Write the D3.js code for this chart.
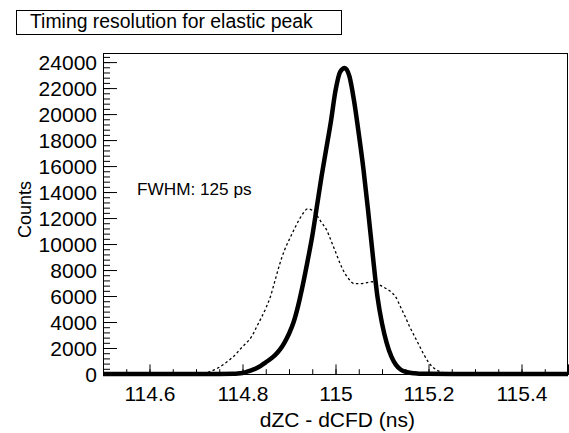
<!DOCTYPE html>
<html>
<head>
<meta charset="utf-8">
<script src="https://cdn.jsdelivr.net/npm/d3@7"></script>
<style>
  html, body { margin: 0; padding: 0; background: #fff; }
  svg { display: block; }
  text { font-family: "Liberation Sans", Arial, Helvetica, sans-serif; fill: #000; }
</style>
</head>
<body>
<svg id="chart" width="569" height="433"></svg>
<script>
// ---- data ----
const title = "Timing resolution for elastic peak";
const xLabel = "dZC - dCFD (ns)";
const yLabel = "Counts";
const annotation = "FWHM: 125 ps";

const xTicks = [114.6, 114.8, 115.0, 115.2, 115.4];
const xTickLabels = ["114.6", "114.8", "115", "115.2", "115.4"];
const yTicks = [0, 2000, 4000, 6000, 8000, 10000, 12000, 14000, 16000, 18000, 20000, 22000, 24000];
const yTickLabels = ["0", "2000", "4000", "6000", "8000", "10000", "12000", "14000", "16000", "18000", "20000", "22000", "24000"];

// thick solid histogram
const solidX = [114.50, 114.70, 114.75, 114.78, 114.79, 114.80, 114.81, 114.82, 114.83, 114.84, 114.85,
  114.86, 114.87, 114.88, 114.89, 114.90, 114.91, 114.92, 114.93, 114.94, 114.95,
  114.96, 114.97, 114.98, 114.99, 115.00, 115.01, 115.02, 115.03, 115.04, 115.05,
  115.06, 115.07, 115.08, 115.09, 115.10, 115.11, 115.12, 115.13, 115.14, 115.15,
  115.16, 115.17, 115.18, 115.20, 115.25, 115.50];
const solidCounts = [0, 0, 0, 10, 30, 80, 180, 300, 450, 650, 900,
  1150, 1450, 1850, 2400, 3100, 4000, 5300, 6900, 8700, 10600,
  12900, 15200, 17300, 19400, 21800, 23250, 23550, 22900, 21000, 18500,
  15800, 12600, 9200, 6000, 3900, 2400, 1350, 700, 350, 180,
  90, 50, 25, 10, 0, 0];

// dotted histogram
const dottedX = [114.50, 114.65, 114.66, 114.67, 114.68, 114.69, 114.70, 114.71, 114.72, 114.73, 114.74,
  114.75, 114.76, 114.77, 114.78, 114.79, 114.80, 114.81, 114.82, 114.83, 114.84,
  114.85, 114.86, 114.87, 114.88, 114.89, 114.90, 114.91, 114.92, 114.93, 114.94,
  114.95, 114.96, 114.97, 114.98, 114.99, 115.00, 115.01, 115.02, 115.03, 115.04,
  115.05, 115.06, 115.07, 115.08, 115.09, 115.10, 115.11, 115.12, 115.13, 115.14,
  115.15, 115.16, 115.17, 115.18, 115.19, 115.20, 115.21, 115.22, 115.23, 115.24,
  115.25, 115.26, 115.28, 115.30, 115.35, 115.40, 115.45, 115.50];
const dottedCounts = [0, 0, 5, 10, 20, 35, 50, 60, 90, 180, 330,
  520, 760, 1030, 1330, 1700, 2100, 2450, 2900, 3600, 4300,
  5050, 5950, 7200, 8450, 9500, 10300, 11050, 11750, 12350, 12700,
  12600, 12200, 11650, 11150, 10300, 9400, 8500, 7750, 7250, 6950,
  6950, 6980, 7050, 7100, 6950, 6750, 6550, 6300, 5900, 5150,
  4400, 3600, 2900, 2200, 1500, 900, 500, 260, 120, 50,
  25, 15, 10, 5, 5, 3, 0, 0];

// ---- layout ----
const svg = d3.select("#chart");
const frame = { left: 103, right: 568, top: 53, bottom: 374 };

const x = d3.scaleLinear().domain([114.5, 115.5]).range([frame.left, frame.right]);
const y = d3.scaleLinear().domain([0, 24700]).range([frame.bottom, frame.top]);

// title box
const titleG = svg.append("g");
titleG.append("rect")
  .attr("x", 16.5).attr("y", 10.5).attr("width", 325).attr("height", 24)
  .attr("fill", "#fff").attr("stroke", "#000").attr("stroke-width", 1);
titleG.append("text")
  .attr("x", 30).attr("y", 28)
  .attr("font-size", 19.4)
  .text(title);

// frame
svg.append("rect")
  .attr("x", frame.left + 0.5).attr("y", frame.top + 0.5)
  .attr("width", frame.right - frame.left - 1).attr("height", frame.bottom - frame.top)
  .attr("fill", "none").attr("stroke", "#000").attr("stroke-width", 1);

// x axis (ticks inside frame)
const xMinor = d3.range(114.5, 115.5001, 0.05);
const xAxisMinor = d3.axisBottom(x).tickValues(xMinor).tickSize(-4.8).tickFormat("");
const xAxisMajor = d3.axisBottom(x).tickValues(xTicks).tickSize(-9.6)
  .tickFormat((d, i) => xTickLabels[i]);
const gxm = svg.append("g").attr("transform", `translate(0,${frame.bottom})`).call(xAxisMinor);
const gx = svg.append("g").attr("transform", `translate(0,${frame.bottom})`).call(xAxisMajor);
[gxm, gx].forEach(g => {
  g.select(".domain").attr("stroke", "#000");
  g.selectAll(".tick line").attr("stroke", "#000");
});
gx.selectAll(".tick text")
  .attr("font-size", 21)
  .attr("font-family", "Liberation Sans, Arial, sans-serif")
  .attr("fill", "#000")
  .attr("dy", 0).attr("y", 26.5);

// y axis
const yMinor = d3.range(0, 24700, 400);
const yAxisMinor = d3.axisLeft(y).tickValues(yMinor).tickSize(-7).tickFormat("");
const yAxisMajor = d3.axisLeft(y).tickValues(yTicks).tickSize(-14)
  .tickFormat((d, i) => yTickLabels[i]);
const gym = svg.append("g").attr("transform", `translate(${frame.left},0)`).call(yAxisMinor);
const gy = svg.append("g").attr("transform", `translate(${frame.left},0)`).call(yAxisMajor);
[gym, gy].forEach(g => {
  g.select(".domain").attr("stroke", "#000");
  g.selectAll(".tick line").attr("stroke", "#000");
});
gy.selectAll(".tick text")
  .attr("font-size", 21)
  .attr("font-family", "Liberation Sans, Arial, sans-serif")
  .attr("fill", "#000")
  .attr("x", -6).attr("dy", "0.36em");

// axis labels
svg.append("text")
  .attr("x", frame.right - 153).attr("y", 427)
  .attr("text-anchor", "end")
  .attr("font-size", 21)
  .text(xLabel);
svg.append("text")
  .attr("transform", `translate(31,238) rotate(-90)`)
  .attr("text-anchor", "start")
  .attr("font-size", 18)
  .text(yLabel);

// curves
const clip = svg.append("clipPath").attr("id", "clip")
  .append("rect").attr("x", frame.left).attr("y", frame.top - 5)
  .attr("width", frame.right - frame.left).attr("height", frame.bottom - frame.top + 10);

const line = d3.line().curve(d3.curveMonotoneX);

svg.append("path")
  .attr("clip-path", "url(#clip)")
  .attr("d", line(dottedX.map((v, i) => [x(v), y(dottedCounts[i])])))
  .attr("fill", "none").attr("stroke", "#000")
  .attr("stroke-width", 1.3).attr("stroke-dasharray", "2.5,2.5");

svg.append("path")
  .attr("clip-path", "url(#clip)")
  .attr("d", line(solidX.map((v, i) => [x(v), y(solidCounts[i])])))
  .attr("fill", "none").attr("stroke", "#000")
  .attr("stroke-width", 4.5).attr("stroke-linejoin", "round");

// annotation
svg.append("text")
  .attr("x", 137).attr("y", 195)
  .attr("font-size", 17.2)
  .text(annotation);
</script>
</body>
</html>
